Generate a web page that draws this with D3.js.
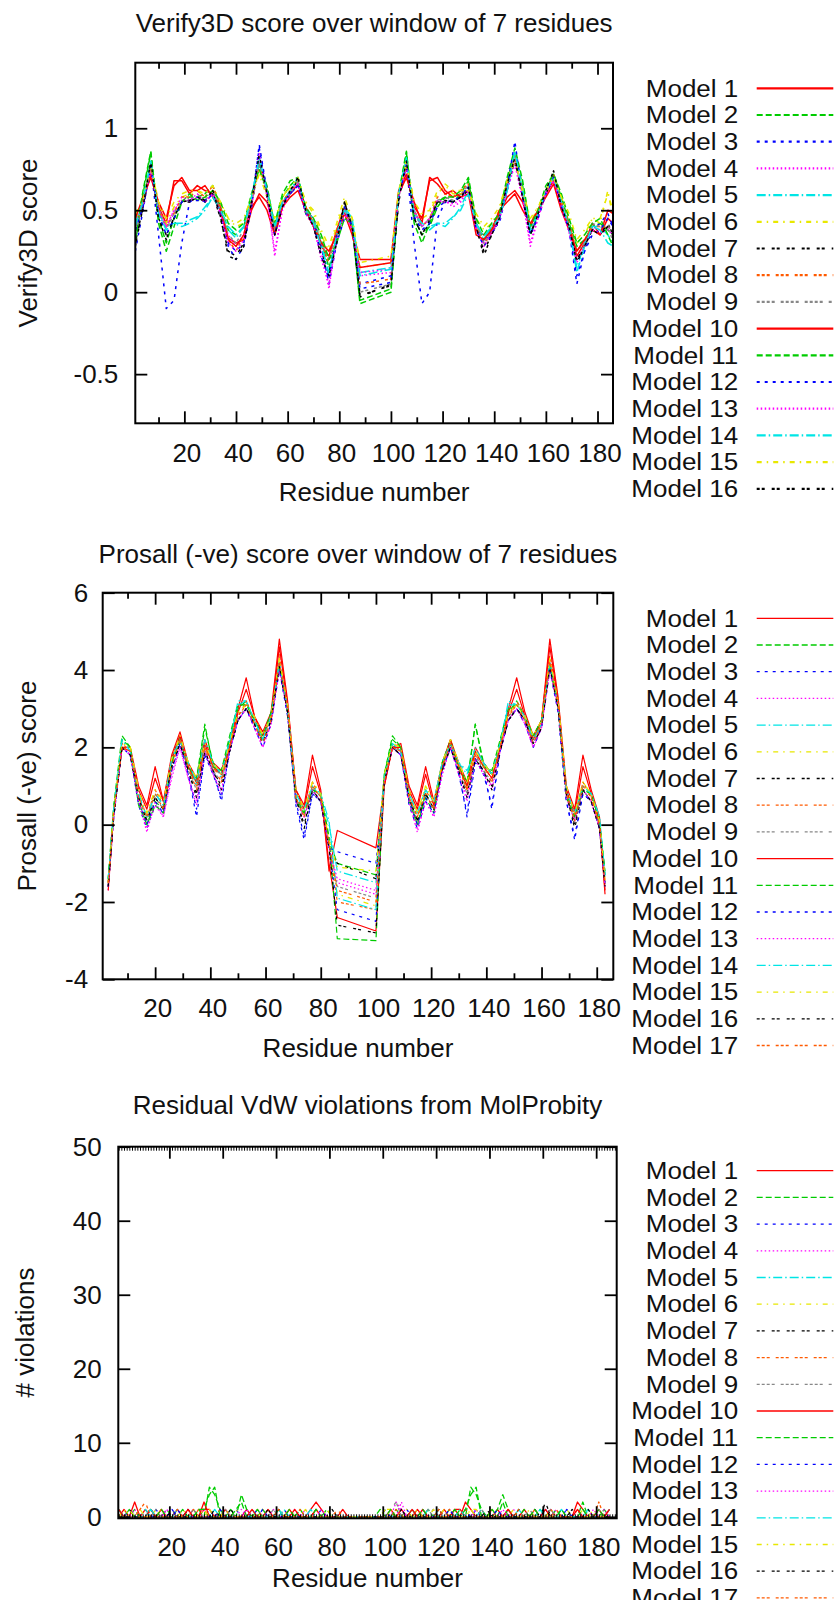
<!DOCTYPE html>
<html>
<head>
<meta charset="utf-8">
<script src="https://cdn.jsdelivr.net/npm/d3@7"></script>
<style>
  body { margin: 0; background: #fff; }
  svg { display: block; }
</style>
</head>
<body>
<svg id="chart" width="837" height="1600"></svg>
<script>
// ---- data ----
const modelLabels = ["Model 1", "Model 2", "Model 3", "Model 4", "Model 5", "Model 6", "Model 7", "Model 8", "Model 9",
  "Model 10", "Model 11", "Model 12", "Model 13", "Model 14", "Model 15", "Model 16", "Model 17"];

const xMajorTicks = [20, 40, 60, 80, 100, 120, 140, 160, 180];
const xMinorTicks = [10, 30, 50, 70, 90, 110, 130, 150, 170];

const verifyYTicks = [-0.5, 0, 0.5, 1];
const verifyYLabels = ["-0.5", "0", "0.5", "1"];
const prosaYTicks = [-4, -2, 0, 2, 4, 6];
const prosaYLabels = ["-4", "-2", "0", "2", "4", "6"];
const molYTicks = [0, 10, 20, 30, 40, 50];
const molYLabels = ["0", "10", "20", "30", "40", "50"];

// Verify3D: residues sampled every 3, no data between 88 and 100
const verifyResidues = [1,4,7,10,13,16,19,22,25,28,31,34,37,40,43,46,49,52,55,58,61,64,67,70,73,76,79,82,85,88,
  100,103,106,109,112,115,118,121,124,127,130,133,136,139,142,145,148,151,154,157,160,163,166,169,172,175,178,181,184,186];

const verifyScores = [
  [0.40,0.55,0.72,0.52,0.42,0.68,0.68,0.60,0.65,0.62, 0.60,0.52,0.33,0.30,0.32,0.50,0.60,0.55,0.40,0.55, 0.60,0.66,0.52,0.42,0.28,0.22,0.38,0.52,0.38,0.20,
   0.20,0.62,0.72,0.52,0.45,0.68,0.70,0.62,0.58,0.60, 0.62,0.38,0.35,0.36,0.48,0.58,0.62,0.55,0.40,0.50, 0.60,0.68,0.52,0.40,0.22,0.30,0.42,0.35,0.45,0.42],
  [0.30,0.60,0.85,0.45,0.30,0.45,0.55,0.58,0.58,0.60, 0.65,0.52,0.38,0.35,0.40,0.58,0.78,0.65,0.40,0.58, 0.65,0.70,0.48,0.42,0.32,0.15,0.32,0.48,0.40,-0.05,
   0.02,0.58,0.85,0.45,0.35,0.40,0.52,0.58,0.55,0.60, 0.68,0.42,0.32,0.40,0.45,0.68,0.85,0.65,0.35,0.48, 0.62,0.72,0.58,0.42,0.28,0.32,0.40,0.42,0.38,0.35],
  [0.25,0.50,0.78,0.35,-0.10,-0.05,0.30,0.55,0.58,0.55, 0.60,0.48,0.30,0.25,0.30,0.55,0.88,0.60,0.35,0.52, 0.60,0.65,0.50,0.45,0.28,0.05,0.30,0.45,0.42,0.05,
   0.10,0.60,0.78,0.30,-0.07,0.00,0.45,0.55,0.55,0.58, 0.65,0.42,0.30,0.38,0.42,0.62,0.80,0.60,0.36,0.45, 0.60,0.70,0.55,0.38,0.10,0.25,0.38,0.42,0.48,0.40],
  [0.38,0.52,0.75,0.50,0.40,0.50,0.56,0.55,0.58,0.55, 0.60,0.48,0.35,0.28,0.35,0.52,0.80,0.60,0.22,0.52, 0.62,0.66,0.48,0.40,0.25,0.02,0.35,0.50,0.38,0.10,
   0.12,0.58,0.78,0.48,0.40,0.45,0.55,0.56,0.52,0.55, 0.62,0.40,0.30,0.36,0.45,0.65,0.82,0.58,0.30,0.46, 0.62,0.68,0.55,0.38,0.20,0.28,0.40,0.38,0.40,0.36],
  [0.42,0.55,0.80,0.48,0.40,0.42,0.40,0.42,0.45,0.50, 0.58,0.50,0.38,0.33,0.40,0.56,0.78,0.62,0.40,0.55, 0.62,0.68,0.50,0.45,0.30,0.10,0.35,0.52,0.45,0.12,
   0.15,0.60,0.80,0.48,0.40,0.38,0.42,0.40,0.45,0.52, 0.62,0.42,0.32,0.40,0.45,0.62,0.85,0.60,0.38,0.48, 0.62,0.70,0.55,0.40,0.15,0.30,0.40,0.40,0.35,0.30],
  [0.45,0.55,0.78,0.55,0.42,0.52,0.58,0.60,0.62,0.58, 0.62,0.55,0.45,0.40,0.42,0.55,0.75,0.60,0.42,0.58, 0.65,0.68,0.55,0.48,0.35,0.25,0.40,0.55,0.45,0.15,
   0.18,0.62,0.80,0.55,0.45,0.48,0.60,0.65,0.60,0.60, 0.62,0.45,0.38,0.42,0.50,0.68,0.82,0.62,0.42,0.52, 0.62,0.70,0.58,0.45,0.30,0.35,0.45,0.42,0.62,0.45],
  [0.30,0.52,0.78,0.45,0.35,0.45,0.55,0.55,0.58,0.55, 0.60,0.45,0.25,0.22,0.30,0.52,0.82,0.58,0.35,0.52, 0.62,0.68,0.50,0.40,0.25,0.12,0.32,0.55,0.40,-0.03,
   0.05,0.55,0.78,0.45,0.35,0.42,0.55,0.55,0.55,0.58, 0.62,0.40,0.25,0.35,0.45,0.65,0.80,0.58,0.35,0.48, 0.60,0.72,0.52,0.40,0.20,0.28,0.38,0.35,0.42,0.35],
  [0.40,0.55,0.75,0.50,0.40,0.48,0.58,0.58,0.62,0.58, 0.65,0.52,0.32,0.25,0.35,0.55,0.78,0.62,0.38,0.55, 0.62,0.68,0.52,0.42,0.30,0.18,0.38,0.50,0.42,0.05,
   0.08,0.60,0.78,0.50,0.40,0.45,0.58,0.60,0.58,0.62, 0.66,0.42,0.28,0.38,0.48,0.66,0.82,0.60,0.38,0.50, 0.62,0.72,0.55,0.42,0.25,0.32,0.40,0.40,0.40,0.38],
  [0.35,0.55,0.78,0.52,0.38,0.48,0.56,0.56,0.60,0.56, 0.62,0.50,0.35,0.30,0.38,0.55,0.80,0.60,0.38,0.55, 0.60,0.68,0.50,0.45,0.30,0.20,0.36,0.50,0.42,0.00,
   0.05,0.58,0.80,0.50,0.40,0.45,0.56,0.58,0.56,0.60, 0.65,0.42,0.30,0.38,0.46,0.66,0.84,0.60,0.38,0.50, 0.62,0.70,0.55,0.40,0.25,0.30,0.42,0.40,0.42,0.30],
  [0.45,0.58,0.70,0.55,0.45,0.65,0.70,0.62,0.62,0.65, 0.58,0.50,0.32,0.28,0.35,0.52,0.58,0.50,0.35,0.52, 0.58,0.62,0.50,0.40,0.30,0.25,0.35,0.48,0.35,0.15,
   0.18,0.60,0.70,0.55,0.42,0.70,0.66,0.60,0.62,0.58, 0.60,0.35,0.32,0.38,0.50,0.55,0.60,0.50,0.42,0.50, 0.58,0.66,0.50,0.38,0.25,0.32,0.38,0.35,0.50,0.48],
  [0.32,0.62,0.86,0.42,0.25,0.40,0.55,0.60,0.56,0.58, 0.62,0.55,0.42,0.38,0.42,0.60,0.75,0.62,0.42,0.60, 0.68,0.70,0.52,0.45,0.35,0.20,0.30,0.45,0.42,-0.07,
   0.00,0.60,0.86,0.42,0.30,0.42,0.55,0.58,0.58,0.62, 0.70,0.45,0.35,0.42,0.48,0.70,0.88,0.68,0.40,0.50, 0.65,0.72,0.60,0.45,0.30,0.35,0.42,0.45,0.35,0.28],
  [0.38,0.52,0.76,0.48,0.35,0.45,0.55,0.56,0.56,0.56, 0.60,0.48,0.28,0.20,0.28,0.52,0.90,0.62,0.35,0.55, 0.60,0.65,0.48,0.42,0.22,0.08,0.35,0.52,0.40,0.02,
   0.06,0.58,0.78,0.46,0.38,0.42,0.52,0.55,0.56,0.58, 0.64,0.38,0.28,0.35,0.45,0.64,0.92,0.58,0.35,0.46, 0.60,0.70,0.52,0.38,0.05,0.25,0.35,0.38,0.45,0.40],
  [0.40,0.55,0.74,0.50,0.40,0.50,0.58,0.56,0.60,0.55, 0.60,0.48,0.30,0.25,0.32,0.52,0.85,0.58,0.25,0.50, 0.62,0.66,0.48,0.40,0.20,0.05,0.32,0.48,0.38,0.12,
   0.14,0.58,0.76,0.50,0.40,0.45,0.56,0.55,0.54,0.56, 0.62,0.38,0.28,0.36,0.44,0.62,0.78,0.56,0.28,0.45, 0.60,0.68,0.52,0.36,0.18,0.28,0.38,0.36,0.38,0.35],
  [0.40,0.56,0.80,0.48,0.38,0.42,0.42,0.44,0.46,0.52, 0.58,0.50,0.40,0.35,0.40,0.58,0.82,0.62,0.40,0.55, 0.62,0.70,0.50,0.42,0.28,0.12,0.35,0.50,0.45,0.10,
   0.14,0.60,0.82,0.48,0.42,0.40,0.42,0.42,0.46,0.50, 0.60,0.42,0.34,0.40,0.45,0.62,0.86,0.62,0.38,0.48, 0.62,0.70,0.55,0.40,0.12,0.28,0.40,0.38,0.30,0.28],
  [0.48,0.56,0.76,0.55,0.45,0.55,0.60,0.62,0.62,0.60, 0.65,0.55,0.45,0.42,0.45,0.58,0.72,0.58,0.45,0.58, 0.64,0.70,0.55,0.50,0.38,0.28,0.42,0.58,0.45,0.18,
   0.22,0.62,0.78,0.55,0.48,0.50,0.62,0.66,0.62,0.62, 0.62,0.48,0.40,0.45,0.52,0.68,0.80,0.62,0.45,0.52, 0.62,0.70,0.58,0.48,0.32,0.38,0.45,0.45,0.60,0.50],
  [0.28,0.52,0.80,0.45,0.32,0.46,0.55,0.56,0.58,0.56, 0.62,0.46,0.22,0.20,0.28,0.55,0.84,0.60,0.35,0.52, 0.62,0.70,0.50,0.40,0.22,0.10,0.30,0.55,0.40,-0.02,
   0.04,0.56,0.80,0.45,0.35,0.44,0.55,0.56,0.55,0.58, 0.64,0.40,0.22,0.35,0.45,0.66,0.82,0.58,0.35,0.48, 0.62,0.74,0.52,0.40,0.18,0.28,0.38,0.35,0.40,0.35]
];

// Prosa II (-ve): residues sampled every 3, no data between 86 and 100
const prosaResidues = [3,5,8,11,14,17,20,23,26,29,32,35,38,41,44,47,50,53,56,59,62,65,68,71,74,77,80,83,86,
  100,103,106,109,112,115,118,121,124,127,130,133,136,139,142,145,148,151,154,157,160,163,166,169,172,175,178,181,183];

const prosaScores = [
  [-1.6,0.4,2.0,2.0,1.0,0.5,1.5,0.6,1.8,2.4, 1.6,1.2,2.2,1.6,1.4,2.1,3.0,3.8,2.8,2.4, 2.9,4.8,3.2,0.9,0.5,1.8,0.9,-1.2,-0.15,
   -0.6,1.0,2.0,2.1,1.0,0.5,1.5,0.6,1.6,2.2, 1.6,1.1,2.0,1.6,1.3,2.1,3.0,3.8,2.9,2.3, 2.7,4.8,3.3,1.0,0.4,1.8,0.9,0.2,-1.7],
  [-1.4,0.5,2.3,2.0,0.6,0.0,0.6,0.4,1.7,2.3, 1.4,1.1,2.5,1.6,1.3,2.2,3.0,3.2,2.6,2.2, 2.9,4.2,2.9,0.7,0.3,0.9,0.8,-0.4,-1.0,
   -1.3,1.3,2.3,2.0,0.7,0.0,0.8,0.4,1.6,2.2, 1.5,1.0,2.6,1.6,1.3,2.1,2.9,3.2,2.8,2.3, 2.7,4.2,3.1,0.8,0.2,0.9,0.8,0.1,-1.3],
  [-1.5,0.2,2.0,1.8,0.5,-0.1,0.5,0.3,1.4,2.1, 1.3,0.2,1.8,1.4,0.6,1.9,2.7,3.0,2.6,2.1, 2.7,4.1,2.9,0.5,-0.4,0.8,0.6,-0.6,-0.7,
   -1.0,1.1,2.0,1.8,0.5,-0.1,0.6,0.3,1.4,2.0, 1.4,0.2,1.6,1.4,0.4,1.9,2.7,3.0,2.7,2.1, 2.5,4.1,3.0,0.6,-0.4,0.8,0.6,-0.1,-1.4],
  [-1.7,0.2,2.0,1.8,0.6,-0.2,0.6,0.2,1.2,2.0, 1.2,0.5,1.9,1.3,0.8,1.9,2.7,3.0,2.5,2.0, 2.6,4.0,2.9,0.6,0.2,0.9,0.6,-0.6,-1.5,
   -1.8,1.1,2.0,1.8,0.6,-0.2,0.6,0.2,1.3,2.0, 1.3,0.6,1.7,1.3,0.9,1.9,2.7,3.0,2.6,2.0, 2.5,4.0,3.0,0.7,0.1,0.9,0.6,-0.1,-1.6],
  [-1.4,0.4,2.2,1.9,0.8,0.2,0.8,0.5,1.7,2.2, 1.6,1.0,2.1,1.6,1.2,2.1,3.2,3.2,2.7,2.2, 2.8,4.2,3.0,0.8,0.4,1.0,0.7,0.0,-1.2,
   -1.5,1.2,2.1,1.9,0.8,0.3,0.9,0.6,1.6,2.1, 1.6,1.4,1.9,1.6,1.3,2.1,3.2,3.1,2.8,2.2, 2.6,4.2,3.1,0.9,0.3,1.0,0.8,0.2,-1.3],
  [-1.5,0.3,2.1,2.0,0.9,0.3,0.9,0.6,1.6,2.3, 1.6,1.1,2.0,1.5,1.3,2.0,2.9,3.1,2.7,2.3, 2.8,4.3,3.0,0.8,0.4,1.1,0.8,-0.5,-1.8,
   -2.1,1.2,2.1,2.0,0.9,0.3,1.0,0.6,1.5,2.2, 1.6,1.0,1.9,1.5,1.3,2.0,2.9,3.1,2.8,2.3, 2.6,4.3,3.2,0.9,0.3,1.1,0.8,0.0,-1.5],
  [-1.6,0.2,2.0,1.8,0.7,0.1,0.7,0.4,1.5,2.1, 1.4,0.8,1.9,1.4,1.0,1.9,2.7,3.0,2.6,2.1, 2.7,4.1,2.9,0.7,0.0,0.9,0.6,-0.6,-1.0,
   -1.4,1.1,2.0,1.8,0.7,0.1,0.8,0.4,1.4,2.0, 1.4,0.8,1.7,1.4,1.0,1.9,2.7,3.0,2.7,2.1, 2.5,4.1,3.1,0.8,0.0,0.9,0.6,-0.1,-1.6],
  [-1.5,0.3,2.1,1.9,0.8,0.2,0.9,0.5,1.6,2.2, 1.5,1.0,2.0,1.5,1.2,2.0,2.8,3.2,2.7,2.2, 2.8,4.4,3.0,0.8,0.3,1.1,0.7,-0.5,-2.0,
   -2.2,1.2,2.1,1.9,0.8,0.2,0.9,0.5,1.5,2.1, 1.5,0.9,1.8,1.5,1.2,2.0,2.8,3.2,2.8,2.2, 2.6,4.4,3.2,0.9,0.2,1.1,0.7,0.0,-1.5],
  [-1.5,0.3,2.0,1.9,0.7,0.1,0.7,0.4,1.5,2.2, 1.4,0.9,1.9,1.4,1.1,2.0,2.8,3.0,2.6,2.1, 2.7,4.2,3.0,0.7,0.2,0.9,0.6,-0.5,-1.6,
   -1.9,1.1,2.0,1.9,0.7,0.1,0.8,0.4,1.4,2.1, 1.4,0.8,1.8,1.4,1.1,2.0,2.8,3.0,2.7,2.1, 2.6,4.2,3.1,0.8,0.1,0.9,0.6,0.0,-1.5],
  [-1.7,0.3,2.0,1.9,0.9,0.4,1.2,0.6,1.7,2.3, 1.5,1.1,2.1,1.5,1.3,2.0,2.9,3.5,2.8,2.3, 2.8,4.6,3.1,0.9,0.4,1.5,0.8,-1.0,-2.4,
   -2.75,1.0,2.0,2.0,0.9,0.4,1.3,0.5,1.5,2.2, 1.5,1.0,1.9,1.5,1.2,2.0,2.9,3.5,2.8,2.2, 2.7,4.6,3.2,0.9,0.3,1.5,0.8,0.1,-1.8],
  [-1.4,0.4,2.2,2.0,0.5,0.0,0.5,0.3,1.6,2.2, 1.5,1.2,2.6,1.5,1.4,2.3,3.1,3.1,2.7,2.3, 2.9,4.1,2.9,0.6,0.3,0.9,0.8,-0.3,-2.95,
   -3.0,1.3,2.2,2.0,0.6,0.0,0.7,0.3,1.6,2.1, 1.5,1.1,2.6,1.5,1.4,2.2,3.0,3.1,2.8,2.3, 2.7,4.1,3.0,0.7,0.2,0.9,0.8,0.1,-1.2],
  [-1.6,0.2,2.0,1.8,0.6,0.0,0.6,0.3,1.4,2.1, 1.3,0.4,1.8,1.3,0.7,1.9,2.7,3.0,2.5,2.0, 2.6,4.0,2.8,0.6,-0.3,0.8,0.6,-0.6,-2.2,
   -2.5,1.1,2.0,1.8,0.6,0.0,0.7,0.3,1.4,2.0, 1.3,0.3,1.7,1.3,0.5,1.9,2.7,3.0,2.6,2.0, 2.5,4.0,2.9,0.6,-0.3,0.8,0.6,-0.1,-1.5],
  [-1.6,0.2,2.0,1.8,0.6,-0.1,0.5,0.2,1.3,2.0, 1.2,0.6,1.9,1.3,0.9,1.9,2.7,3.0,2.5,2.0, 2.6,4.0,2.9,0.6,0.2,0.9,0.6,-0.6,-1.4,
   -1.7,1.1,2.0,1.8,0.6,-0.1,0.6,0.2,1.3,2.0, 1.3,0.7,1.7,1.3,1.0,1.9,2.7,3.0,2.6,2.0, 2.5,4.0,3.0,0.7,0.1,0.9,0.6,-0.1,-1.6],
  [-1.4,0.4,2.2,1.9,0.8,0.2,0.8,0.5,1.7,2.2, 1.6,1.1,2.2,1.6,1.3,2.2,3.1,3.2,2.7,2.2, 2.8,4.2,3.0,0.8,0.4,1.0,0.8,0.1,-1.9,
   -2.2,1.2,2.1,1.9,0.8,0.3,0.9,0.6,1.6,2.1, 1.6,1.3,2.0,1.6,1.3,2.1,3.1,3.1,2.8,2.2, 2.6,4.2,3.1,0.9,0.3,1.0,0.8,0.2,-1.3],
  [-1.5,0.4,2.1,2.0,0.9,0.3,0.9,0.6,1.7,2.3, 1.6,1.2,2.1,1.6,1.3,2.1,2.9,3.1,2.8,2.3, 2.8,4.3,3.1,0.9,0.4,1.1,0.8,-0.4,-1.1,
   -1.2,1.3,2.1,2.0,0.9,0.3,1.0,0.6,1.6,2.2, 1.6,1.1,1.9,1.6,1.3,2.1,2.9,3.1,2.8,2.3, 2.7,4.3,3.2,1.0,0.3,1.1,0.8,0.1,-1.4],
  [-1.6,0.2,2.0,1.8,0.7,0.1,0.7,0.4,1.5,2.1, 1.4,0.7,1.9,1.4,0.9,1.9,2.7,3.0,2.6,2.1, 2.7,4.1,2.9,0.7,-0.1,0.9,0.6,-0.6,-2.6,
   -2.8,1.1,2.0,1.8,0.7,0.1,0.8,0.4,1.4,2.0, 1.4,0.7,1.7,1.4,0.9,1.9,2.7,3.0,2.7,2.1, 2.5,4.1,3.0,0.8,-0.1,0.9,0.6,-0.1,-1.6],
  [-1.5,0.3,2.0,1.9,0.7,0.2,0.8,0.4,1.5,2.2, 1.5,0.9,2.0,1.5,1.1,2.0,2.8,3.1,2.6,2.1, 2.7,4.2,3.0,0.7,0.2,1.0,0.7,-0.5,-1.7,
   -2.0,1.1,2.0,1.9,0.7,0.2,0.8,0.4,1.5,2.1, 1.5,0.9,1.8,1.5,1.1,2.0,2.8,3.1,2.7,2.1, 2.6,4.2,3.1,0.8,0.1,1.0,0.7,0.0,-1.5]
];

// MolProbity clash counts, every second residue
const molResidues = [1,3,5,7,9,11,13,15,17,19,21,23,25,27,29,31,33,35,37,39,41,43,45,47,49,51,53,55,57,59,
  61,63,65,67,69,71,73,75,77,79,81,83,85,87,89,91,93,95,97,99,101,103,105,107,109,111,113,115,117,119,
  121,123,125,127,129,131,133,135,137,139,141,143,145,147,149,151,153,155,157,159,161,163,165,167,169,171,173,175,177,179,
  181,183,185];

const molViolations = [
  [0,1,0,2,0,1,0,0,1,0, 0,1,0,0,1,0,1,1,0,0, 1,0,0,0,1,0,0,0,1,0, 0,0,1,0,0,0,1,2,1,0, 0,0,1,0,0,0,0,0,0,0,
   0,1,0,1,0,0,1,0,0,0, 0,1,0,1,0,2,1,0,0,0, 0,1,0,0,0,0,1,0,0,0, 0,1,0,0,0,0,2,1,0,0, 1,0,1],
  [1,0,0,1,0,0,1,0,0,1, 0,0,1,0,0,1,0,4,3,1, 0,1,0,3,1,0,0,1,0,0, 1,0,0,0,1,0,0,0,0,1, 0,0,0,0,0,0,0,0,0,1,
   0,0,1,0,0,1,0,0,1,0, 0,0,1,0,1,0,4,3,1,0, 0,1,3,1,0,0,1,0,0,1, 0,0,1,0,0,0,0,2,0,0, 0,1,0],
  [0,0,1,0,0,0,0,1,0,0, 1,0,0,0,0,0,0,1,0,0, 0,0,1,0,0,0,1,0,0,0, 0,1,0,0,0,0,0,0,1,0, 0,0,0,0,0,0,0,0,0,0,
   1,0,0,0,1,0,0,0,0,1, 0,0,0,0,0,1,0,1,0,0, 0,0,0,1,0,0,0,0,1,0, 1,0,0,0,1,0,0,0,0,0, 0,0,0],
  [0,0,0,1,0,0,0,0,0,1, 0,0,0,1,0,0,1,0,0,0, 0,0,0,1,0,0,0,0,0,1, 0,0,0,1,0,1,0,0,0,0, 0,0,0,0,0,0,0,0,0,0,
   0,0,2,1,0,0,0,1,0,0, 0,0,1,0,0,0,0,1,0,0, 0,0,0,0,1,0,0,0,0,0, 0,0,1,0,0,0,1,0,0,0, 0,1,0],
  [1,0,0,0,0,1,0,0,0,0, 0,1,0,0,0,0,0,0,1,0, 0,0,0,0,0,1,0,0,0,0, 1,0,0,0,0,0,1,0,0,0, 0,0,0,0,0,0,0,0,0,0,
   0,0,0,0,0,1,0,0,1,0, 1,0,0,0,0,0,0,0,1,0, 0,0,0,0,0,1,0,0,0,0, 0,0,0,1,0,0,0,0,1,0, 0,0,1],
  [0,1,0,0,1,0,0,1,0,0, 0,0,1,0,1,0,0,1,0,0, 1,0,1,0,0,0,0,1,0,0, 0,0,1,0,0,1,0,0,0,1, 0,0,0,0,0,0,0,0,0,0,
   1,1,0,0,1,0,1,0,0,1, 0,1,0,0,1,0,1,1,0,0, 1,0,0,0,1,0,0,1,0,0, 0,1,0,0,1,0,0,1,0,1, 0,0,0],
  [0,0,1,0,0,0,1,0,0,0, 1,0,0,1,0,0,0,0,1,0, 0,1,0,0,0,0,0,0,1,0, 1,0,0,0,0,0,0,1,0,0, 1,0,0,0,0,0,0,0,0,0,
   0,0,0,1,0,0,0,0,0,0, 1,0,0,0,0,0,0,0,0,1, 0,0,0,0,0,1,0,0,1,0, 2,0,0,0,0,1,0,0,1,0, 0,0,1],
  [0,0,0,0,1,2,0,0,1,0, 0,1,0,0,0,1,1,0,0,1, 0,0,0,0,0,0,1,0,0,0, 0,1,0,0,1,0,0,1,0,0, 0,1,0,0,0,0,0,0,0,0,
   0,0,1,0,0,0,1,0,0,0, 1,0,1,0,0,1,0,0,0,0, 1,0,0,1,0,0,0,0,1,0, 0,0,1,0,0,0,1,0,0,0, 2,0,0],
  [0,0,0,0,0,0,0,1,0,0, 0,0,0,0,1,0,0,0,0,0, 1,0,0,0,0,0,0,0,0,1, 0,0,0,0,0,0,0,0,0,0, 0,0,0,0,0,0,0,0,0,0,
   0,1,2,0,0,0,0,0,1,0, 0,0,0,0,0,0,0,0,1,0, 0,0,0,0,0,0,0,1,0,0, 0,1,0,0,0,0,0,0,0,0, 1,0,0],
  [1,0,0,0,0,0,1,0,0,0, 0,0,0,1,0,0,2,0,0,0, 0,0,0,0,0,1,0,0,0,0, 0,0,0,1,0,0,0,1,0,0, 0,0,0,0,0,0,0,0,0,0,
   0,0,0,0,0,1,0,1,0,0, 0,0,0,1,1,0,0,0,0,0, 0,0,0,1,0,0,0,0,0,0, 1,0,0,0,0,0,1,0,0,0, 0,0,1],
  [0,0,1,0,0,0,0,0,1,0, 0,0,0,0,0,1,1,3,4,0, 0,0,1,2,0,0,1,0,0,0, 0,0,1,0,0,0,0,1,0,0, 0,0,0,0,0,0,0,0,0,0,
   0,1,0,0,0,0,0,1,0,0, 0,0,0,1,0,1,3,4,0,0, 1,0,2,0,0,0,0,0,1,0, 0,0,0,1,0,0,0,1,0,0, 1,0,0],
  [0,0,0,0,0,0,0,0,0,0, 0,1,0,0,0,0,0,0,0,1, 0,0,0,0,0,0,0,1,0,0, 0,0,0,0,0,0,0,0,0,0, 0,0,0,0,0,0,0,0,0,0,
   0,0,0,0,0,0,0,0,0,0, 0,0,1,0,0,0,0,0,0,0, 0,1,0,0,0,0,0,0,0,0, 0,0,0,0,1,0,0,0,0,0, 0,0,0],
  [0,0,0,0,0,0,0,0,0,1, 0,0,0,0,0,0,0,0,0,0, 0,0,0,0,1,0,0,0,0,0, 0,0,0,0,0,0,0,0,1,0, 0,0,0,0,0,0,0,0,0,0,
   0,0,0,2,0,0,0,0,0,0, 0,0,0,0,0,0,0,0,0,0, 0,0,1,0,0,0,0,0,0,0, 0,0,0,0,0,0,0,0,0,1, 0,0,0],
  [0,0,0,0,0,0,1,0,0,0, 0,0,0,0,0,0,0,0,0,0, 0,0,0,0,0,0,0,0,0,0, 0,1,0,0,0,0,0,0,0,0, 0,0,0,0,0,0,0,0,0,0,
   0,0,0,0,0,0,0,0,0,0, 0,0,0,0,1,0,0,0,0,0, 0,0,0,0,0,0,0,0,0,1, 0,0,0,0,0,0,0,0,0,0, 0,0,0],
  [0,0,1,0,0,0,0,0,0,0, 0,0,0,0,0,0,1,0,0,0, 0,0,0,0,0,0,0,0,0,0, 0,0,0,0,0,0,0,0,0,0, 0,0,0,0,0,0,0,0,0,0,
   1,0,0,0,0,0,0,0,0,0, 0,0,0,0,0,0,1,0,0,0, 0,0,0,0,0,0,0,0,0,0, 0,0,0,0,0,0,0,0,0,0, 0,0,0],
  [0,0,0,0,0,0,0,0,0,0, 0,0,0,0,0,0,0,0,0,0, 0,0,0,0,0,0,0,0,0,0, 0,0,0,0,0,0,0,0,0,0, 0,0,0,0,0,0,0,0,0,0,
   0,0,0,0,0,0,0,0,0,0, 0,0,0,0,0,0,0,0,0,0, 0,0,0,0,0,0,0,0,0,0, 1,0,0,0,0,0,0,0,0,0, 0,0,0],
  [0,0,0,0,0,0,0,0,0,0, 0,0,0,0,0,0,0,0,0,0, 0,0,0,0,0,0,0,0,0,0, 1,0,0,0,0,0,0,0,0,0, 0,0,0,0,0,0,0,0,0,0,
   0,0,0,0,0,0,0,0,0,0, 0,0,0,0,0,0,0,0,0,0, 0,0,0,0,0,1,0,0,0,0, 0,0,0,0,0,0,0,0,0,0, 0,0,0]
];

// gnuplot postscript-style line types (cycle of 9)
const lineColors = ["#ff0000", "#00cc00", "#0000ff", "#ff00ff", "#00e5e5", "#e8e800", "#000000", "#ff5a00", "#888888"];
const lineDashes = [null, "6,3", "3,5", "1.5,2.5", "9,3,1.5,3", "5,5,1.5,5", "3,2,3,7", "3,2,3,2,3,6", "3,2,3,2,3,2,3,6"];

// ---- drawing ----
const FONT = "'Liberation Sans', Arial, Helvetica, sans-serif";
const FONT_SIZE = 26;
const KEY_FONT_SIZE = 23.5;   // key rows are packed tightly, glyphs stretched back to full width
const LEGEND_STEP = 26.7;
const svg = d3.select("#chart");

const panels = [
  {
    id: "p1", title: "Verify3D score over window of 7 residues", yTitle: "Verify3D score",
    left: 135.3, right: 613, top: 62.7, bottom: 423.3,
    xDomain: [1, 186], yDomain: [-0.8, 1.4],
    yTicks: verifyYTicks, yLabels: verifyYLabels, yLabelGap: 17,
    residues: verifyResidues, series: verifyScores,
    titleY: 23.3, tickLabelY: 453, xTitleY: 491.7, yTitleX: 28.3, legendY: 88.3,
    lineWidth: 1.5, legendWidth: 2.2, comb: false
  },
  {
    id: "p2", title: "Prosall (-ve) score over window of 7 residues", yTitle: "Prosall (-ve) score",
    left: 102.7, right: 613.3, top: 592.7, bottom: 979.3,
    xDomain: [1, 186], yDomain: [-4, 6],
    yTicks: prosaYTicks, yLabels: prosaYLabels, yLabelGap: 14.5,
    residues: prosaResidues, series: prosaScores,
    titleY: 554, tickLabelY: 1008.3, xTitleY: 1048.3, yTitleX: 26.7, legendY: 618.3,
    lineWidth: 1.2, legendWidth: 1.3, comb: false
  },
  {
    id: "p3", title: "Residual VdW violations from MolProbity", yTitle: "# violations",
    left: 118.3, right: 616.7, top: 1146.7, bottom: 1518.3,
    xDomain: [0.86, 187.7], yDomain: [-0.2, 50],
    yTicks: molYTicks, yLabels: molYLabels, yLabelGap: 16.6,
    residues: molResidues, series: molViolations,
    titleY: 1105, tickLabelY: 1546.7, xTitleY: 1578.3, yTitleX: 25, legendY: 1170.7,
    lineWidth: 1.3, legendWidth: 1.3, comb: true
  }
];

function styleTicks(sel, width) {
  sel.select(".domain").remove();
  sel.selectAll(".tick line").attr("stroke", "#000").attr("stroke-width", width);
}

function drawPanel(p) {
  const x = d3.scaleLinear().domain(p.xDomain).range([p.left, p.right]);
  const y = d3.scaleLinear().domain(p.yDomain).range([p.bottom, p.top]);
  const g = svg.append("g");

  svg.append("defs").append("clipPath").attr("id", "clip-" + p.id)
    .append("rect")
    .attr("x", p.left).attr("y", p.top)
    .attr("width", p.right - p.left).attr("height", p.bottom - p.top);

  // data lines
  const line = d3.line().x(d => x(d[0])).y(d => y(d[1]));
  const plot = g.append("g").attr("clip-path", "url(#clip-" + p.id + ")");
  p.series.forEach((vals, i) => {
    plot.append("path")
      .datum(p.residues.map((r, k) => [r, vals[k]]))
      .attr("d", line)
      .attr("fill", "none")
      .attr("stroke", lineColors[i % 9])
      .attr("stroke-width", p.lineWidth)
      .attr("stroke-linejoin", "round")
      .attr("stroke-dasharray", lineDashes[i % 9]);
  });

  // x ticks, bottom and top (gnuplot mirrors them, pointing inwards)
  g.append("g").attr("transform", "translate(0," + p.bottom + ")")
    .call(d3.axisBottom(x).tickValues(xMajorTicks).tickSizeInner(-12).tickSizeOuter(0).tickFormat(d3.format("d")))
    .call(s => styleTicks(s, 1.8))
    .call(s => s.selectAll("text")
      .attr("y", p.tickLabelY - p.bottom).attr("dy", "0.35em").attr("dx", 2)
      .attr("font-family", FONT).attr("font-size", FONT_SIZE).attr("fill", "#111"));
  g.append("g").attr("transform", "translate(0," + p.top + ")")
    .call(d3.axisTop(x).tickValues(xMajorTicks).tickSizeInner(-12).tickSizeOuter(0).tickFormat(""))
    .call(s => styleTicks(s, 1.8));

  if (p.comb) {
    const every = d3.range(1, 188);
    g.append("g").attr("transform", "translate(0," + p.top + ")")
      .call(d3.axisTop(x).tickValues(every).tickSizeInner(-4).tickSizeOuter(0).tickFormat(""))
      .call(s => styleTicks(s, 1));
    g.append("g").attr("transform", "translate(0," + p.bottom + ")")
      .call(d3.axisBottom(x).tickValues(every).tickSizeInner(-4).tickSizeOuter(0).tickFormat(""))
      .call(s => styleTicks(s, 1));
  } else {
    g.append("g").attr("transform", "translate(0," + p.bottom + ")")
      .call(d3.axisBottom(x).tickValues(xMinorTicks).tickSizeInner(-6).tickSizeOuter(0).tickFormat(""))
      .call(s => styleTicks(s, 1.8));
    g.append("g").attr("transform", "translate(0," + p.top + ")")
      .call(d3.axisTop(x).tickValues(xMinorTicks).tickSizeInner(-6).tickSizeOuter(0).tickFormat(""))
      .call(s => styleTicks(s, 1.8));
  }

  // y ticks, left with labels and mirrored on the right
  g.append("g").attr("transform", "translate(" + p.left + ",0)")
    .call(d3.axisLeft(y).tickValues(p.yTicks).tickSizeInner(-12).tickSizeOuter(0)
      .tickPadding(p.yLabelGap).tickFormat((d, i) => p.yLabels[i]))
    .call(s => styleTicks(s, 1.8))
    .call(s => s.selectAll("text")
      .attr("font-family", FONT).attr("font-size", FONT_SIZE).attr("fill", "#111"));
  g.append("g").attr("transform", "translate(" + p.right + ",0)")
    .call(d3.axisRight(y).tickValues(p.yTicks).tickSizeInner(-12).tickSizeOuter(0).tickFormat(""))
    .call(s => styleTicks(s, 1.8));

  // frame
  g.append("rect")
    .attr("x", p.left).attr("y", p.top)
    .attr("width", p.right - p.left).attr("height", p.bottom - p.top)
    .attr("fill", "none").attr("stroke", "#000").attr("stroke-width", 2);

  // titles
  const cx = (p.left + p.right) / 2;
  const textStyle = s => s.attr("font-family", FONT).attr("font-size", FONT_SIZE).attr("fill", "#111");
  g.append("text").attr("x", cx).attr("y", p.titleY).attr("dy", "0.35em")
    .attr("text-anchor", "middle").call(textStyle).text(p.title);
  g.append("text").attr("x", cx).attr("y", p.xTitleY).attr("dy", "0.35em")
    .attr("text-anchor", "middle").call(textStyle).text("Residue number");
  g.append("text")
    .attr("transform", "translate(" + p.yTitleX + "," + ((p.top + p.bottom) / 2) + ") rotate(-90)")
    .attr("dy", "0.35em").attr("text-anchor", "middle").call(textStyle).text(p.yTitle);

  // key
  const key = g.append("g");
  p.series.forEach((vals, i) => {
    const ky = p.legendY + i * LEGEND_STEP;
    const t = key.append("text").attr("x", 738.3).attr("y", ky).attr("dy", "0.35em")
      .attr("text-anchor", "end").call(textStyle).text(modelLabels[i]);
    const fullWidth = t.node().getComputedTextLength();
    t.attr("font-size", KEY_FONT_SIZE)
      .attr("textLength", fullWidth)
      .attr("lengthAdjust", "spacingAndGlyphs");
    key.append("line")
      .attr("x1", 756.7).attr("x2", 833.3).attr("y1", ky).attr("y2", ky)
      .attr("stroke", lineColors[i % 9])
      .attr("stroke-width", p.legendWidth)
      .attr("stroke-dasharray", lineDashes[i % 9]);
  });
}

panels.forEach(drawPanel);
</script>
</body>
</html>
